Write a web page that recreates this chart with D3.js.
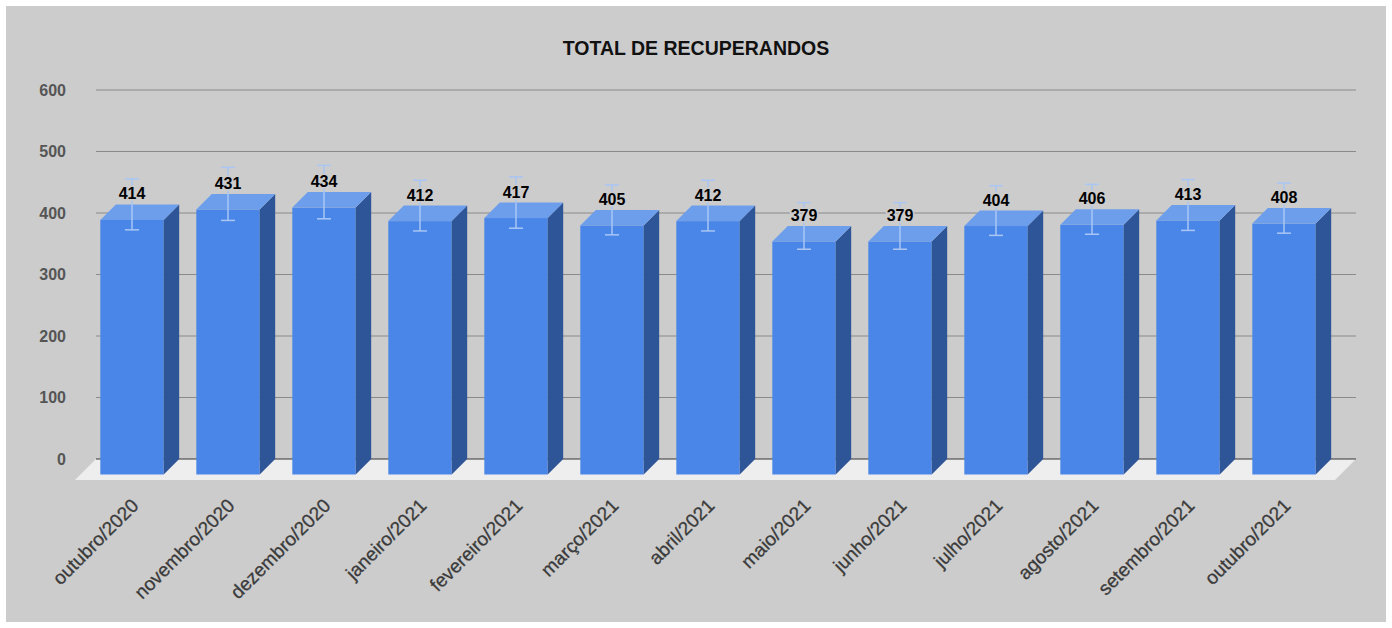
<!DOCTYPE html>
<html>
<head>
<meta charset="utf-8">
<title>Total de recuperandos</title>
<style>
  body { margin: 0; background: #fff; }
  text { font-family: Arial, "Liberation Sans", sans-serif; }
</style>
</head>
<body>
<svg width="1392" height="628"></svg>
<script src="https://d3js.org/d3.v7.min.js"></script>
<script>
  // data
  var months = ["outubro/2020", "novembro/2020", "dezembro/2020", "janeiro/2021", "fevereiro/2021",
    "março/2021", "abril/2021", "maio/2021", "junho/2021", "julho/2021", "agosto/2021",
    "setembro/2021", "outubro/2021"];
  var values = [414, 431, 434, 412, 417, 405, 412, 379, 379, 404, 406, 413, 408];
  var yTicks = [0, 100, 200, 300, 400, 500, 600];
  var errorPct = 0.1;

  var svg = d3.select("svg");

  // background panel
  svg.append("rect")
    .attr("x", 6).attr("y", 6)
    .attr("width", 1380).attr("height", 616)
    .attr("fill", "#cccccc");

  svg.append("text")
    .attr("x", 696).attr("y", 55)
    .attr("text-anchor", "middle")
    .attr("font-size", "19.5px")
    .attr("font-weight", "bold")
    .attr("fill", "#111")
    .text("TOTAL DE RECUPERANDOS");

  var depth = 15.5;   // 3d offset of the bars
  var floorDepth = 21;

  // y scale on the back wall
  var y = d3.scaleLinear().domain([0, 600]).range([459, 90]);

  // x band for the bar front faces
  var x = d3.scaleBand()
    .domain(months)
    .range([84, 84 + 96 * months.length])
    .paddingInner(0.34)
    .paddingOuter(0.17);

  var gx0 = 96, gx1 = 1356;

  // gridlines
  svg.append("g")
    .selectAll("line")
    .data(yTicks.filter(function (d) { return d > 0; }))
    .join("line")
    .attr("x1", gx0).attr("x2", gx1)
    .attr("y1", function (d) { return y(d); })
    .attr("y2", function (d) { return y(d); })
    .attr("stroke", "#8a8a8a")
    .attr("stroke-width", 1.2);

  // floor
  svg.append("path")
    .attr("d", "M" + gx0 + "," + y(0) + "L" + gx1 + "," + y(0) +
      "L" + (gx1 - floorDepth) + "," + (y(0) + floorDepth) +
      "L" + (gx0 - floorDepth) + "," + (y(0) + floorDepth) + "Z")
    .attr("fill", "#eeeeee");

  svg.append("line")
    .attr("x1", gx0).attr("x2", gx1)
    .attr("y1", y(0)).attr("y2", y(0))
    .attr("stroke", "#333")
    .attr("stroke-width", 1.2);

  // y axis labels
  svg.append("g")
    .selectAll("text")
    .data(yTicks)
    .join("text")
    .attr("x", 66)
    .attr("y", function (d) { return y(d); })
    .attr("dy", "0.35em")
    .attr("text-anchor", "end")
    .attr("font-size", "16px")
    .attr("font-weight", "bold")
    .attr("fill", "#555")
    .text(function (d) { return d; });

  // bars
  var w = x.bandwidth();
  var bars = svg.append("g")
    .selectAll("g")
    .data(values.map(function (v, i) { return { m: months[i], v: v }; }))
    .join("g");

  function frontTop(d) { return y(d.v) + depth; }
  var frontBottom = y(0) + depth;

  bars.append("rect")
    .attr("x", function (d) { return x(d.m); })
    .attr("y", frontTop)
    .attr("width", w)
    .attr("height", function (d) { return frontBottom - frontTop(d); })
    .attr("fill", "#4a86e8");

  bars.append("path")
    .attr("d", function (d) {
      var x1 = x(d.m) + w, t = frontTop(d);
      return "M" + x1 + "," + t + "L" + (x1 + depth) + "," + (t - depth) +
        "L" + (x1 + depth) + "," + (frontBottom - depth) + "L" + x1 + "," + frontBottom + "Z";
    })
    .attr("fill", "#2e5597");

  bars.append("path")
    .attr("d", function (d) {
      var x0 = x(d.m), t = frontTop(d);
      return "M" + x0 + "," + t + "L" + (x0 + depth) + "," + (t - depth) +
        "L" + (x0 + w + depth) + "," + (t - depth) + "L" + (x0 + w) + "," + t + "Z";
    })
    .attr("fill", "#6d9eeb");

  // error bars (10%)
  var eb = bars.append("g")
    .attr("stroke", "#a9c6f5")
    .attr("stroke-width", 1.5);
  eb.append("line")
    .attr("x1", function (d) { return x(d.m) + w / 2; })
    .attr("x2", function (d) { return x(d.m) + w / 2; })
    .attr("y1", function (d) { return y(d.v * (1 + errorPct)); })
    .attr("y2", function (d) { return y(d.v * (1 - errorPct)); });
  [1 + errorPct, 1 - errorPct].forEach(function (f) {
    eb.append("line")
      .attr("x1", function (d) { return x(d.m) + w / 2 - 7; })
      .attr("x2", function (d) { return x(d.m) + w / 2 + 7; })
      .attr("y1", function (d) { return y(d.v * f); })
      .attr("y2", function (d) { return y(d.v * f); });
  });

  // value labels
  bars.append("text")
    .attr("x", function (d) { return x(d.m) + w / 2; })
    .attr("y", function (d) { return y(d.v) - 5; })
    .attr("text-anchor", "middle")
    .attr("font-size", "16px")
    .attr("font-weight", "bold")
    .attr("fill", "#000")
    .attr("stroke", "#cccccc")
    .attr("stroke-width", 3)
    .attr("paint-order", "stroke")
    .text(function (d) { return d.v; });

  // x labels
  svg.append("g")
    .selectAll("text")
    .data(months)
    .join("text")
    .attr("transform", function (d) {
      return "translate(" + (x(d) + w / 2 + 3) + ",502) rotate(-45)";
    })
    .attr("dy", "0.35em")
    .attr("text-anchor", "end")
    .attr("font-size", "19px")
    .attr("fill", "#3a3a3a")
    .attr("stroke", "#3a3a3a")
    .attr("stroke-width", 0.3)
    .text(function (d) { return d; });
</script>
</body>
</html>
